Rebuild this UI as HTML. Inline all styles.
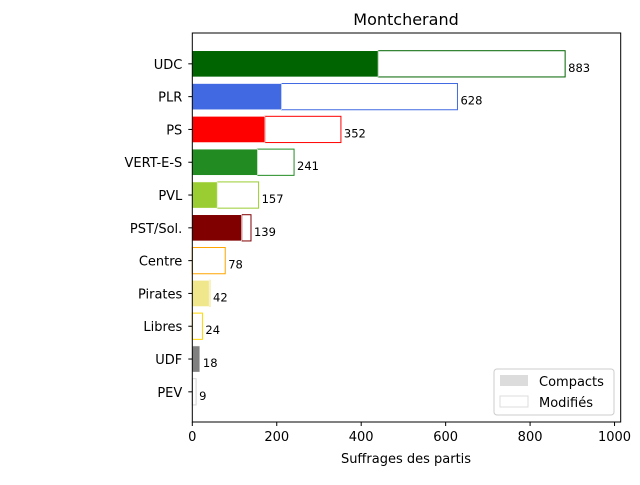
<!DOCTYPE html>
<html><head><meta charset="utf-8"><style>
body{margin:0;background:#fff;font-family:"Liberation Sans","DejaVu Sans",sans-serif}
svg text{font-family:"DejaVu Sans","Liberation Sans",sans-serif}
</style></head><body>
<svg id="c" width="640" height="480" xmlns="http://www.w3.org/2000/svg"></svg>
<script>
const parties=["UDC","PLR","PS","VERT-E-S","PVL","PST/Sol.","Centre","Pirates","Libres","UDF","PEV"];
const totals=[883,628,352,241,157,139,78,42,24,18,9];
const compacts=[440,211,172,154,59,117,0,40,0,18,0];
const colors=["#006400","#4169e1","#ff0000","#228b22","#9acd32","#800000","#ffa500","#f0e68c","#ffd700","#808080","#d3d3d3"];
const xticks=[0,200,400,600,800,1000];
const svg=document.getElementById('c');const NS="http://www.w3.org/2000/svg";
const L=192.3,R=620.7,T=33,B=422,xmax=1014.6;
const x=v=>L+v/xmax*(R-L);
const step=32.8;
const yc=i=>T+(0.94+i)*step;
function mk(t,a,txt){const e=document.createElementNS(NS,t);for(const k in a)e.setAttribute(k,a[k]);if(txt!==undefined)e.textContent=txt;svg.appendChild(e);return e;}
let e=mk('text',{x:406,y:25,'text-anchor':'middle','font-size':16,fill:'#000'},'Montcherand');

const bh=0.8*step;
parties.forEach((p,i)=>{
 const y0=yc(i)-bh/2;
 let m=mk('rect',{x:x(compacts[i]),y:y0,width:Math.max(0,x(totals[i])-x(compacts[i])),height:bh,fill:'#fff',stroke:colors[i],'stroke-width':1});
 
 if(compacts[i]>0){let c=mk('rect',{x:x(0),y:y0,width:x(compacts[i])-x(0),height:bh,fill:colors[i],stroke:'#fff','stroke-width':0.6});
 }
 let v=mk('text',{x:x(totals[i])+3,y:yc(i)+8,'font-size':11.5,fill:'#000'},String(totals[i]));
 
 let l=mk('text',{x:L-10,y:yc(i)+5,'text-anchor':'end','font-size':13,fill:'#000'},p);
 
 mk('line',{x1:L-4,x2:L,y1:yc(i),y2:yc(i),stroke:'#000'});
});
xticks.forEach(t=>{
 mk('line',{x1:x(t),x2:x(t),y1:B,y2:B+4,stroke:'#000'});
 let l=mk('text',{x:x(t),y:B+19,'text-anchor':'middle','font-size':13,fill:'#000'},String(t));
 
});
let f=mk('rect',{x:L,y:T,width:R-L,height:B-T,fill:'none',stroke:'#000','stroke-width':1});

let xl=mk('text',{x:406,y:463,'text-anchor':'middle','font-size':13,fill:'#000'},'Suffrages des partis');

let lg=mk('rect',{x:494,y:369,width:120,height:46,rx:3,fill:'#fff','fill-opacity':0.8,stroke:'#ccc'});

mk('rect',{x:500,y:375,width:28,height:11,fill:'#dcdcdc'});
let a=mk('text',{x:539,y:386,'font-size':13,fill:'#000'},'Compacts');

mk('rect',{x:500,y:396,width:28,height:11,fill:'#fff',stroke:'#dcdcdc'});
let b=mk('text',{x:539,y:407,'font-size':13,fill:'#000'},'Modifiés');

</script>
</body></html>
